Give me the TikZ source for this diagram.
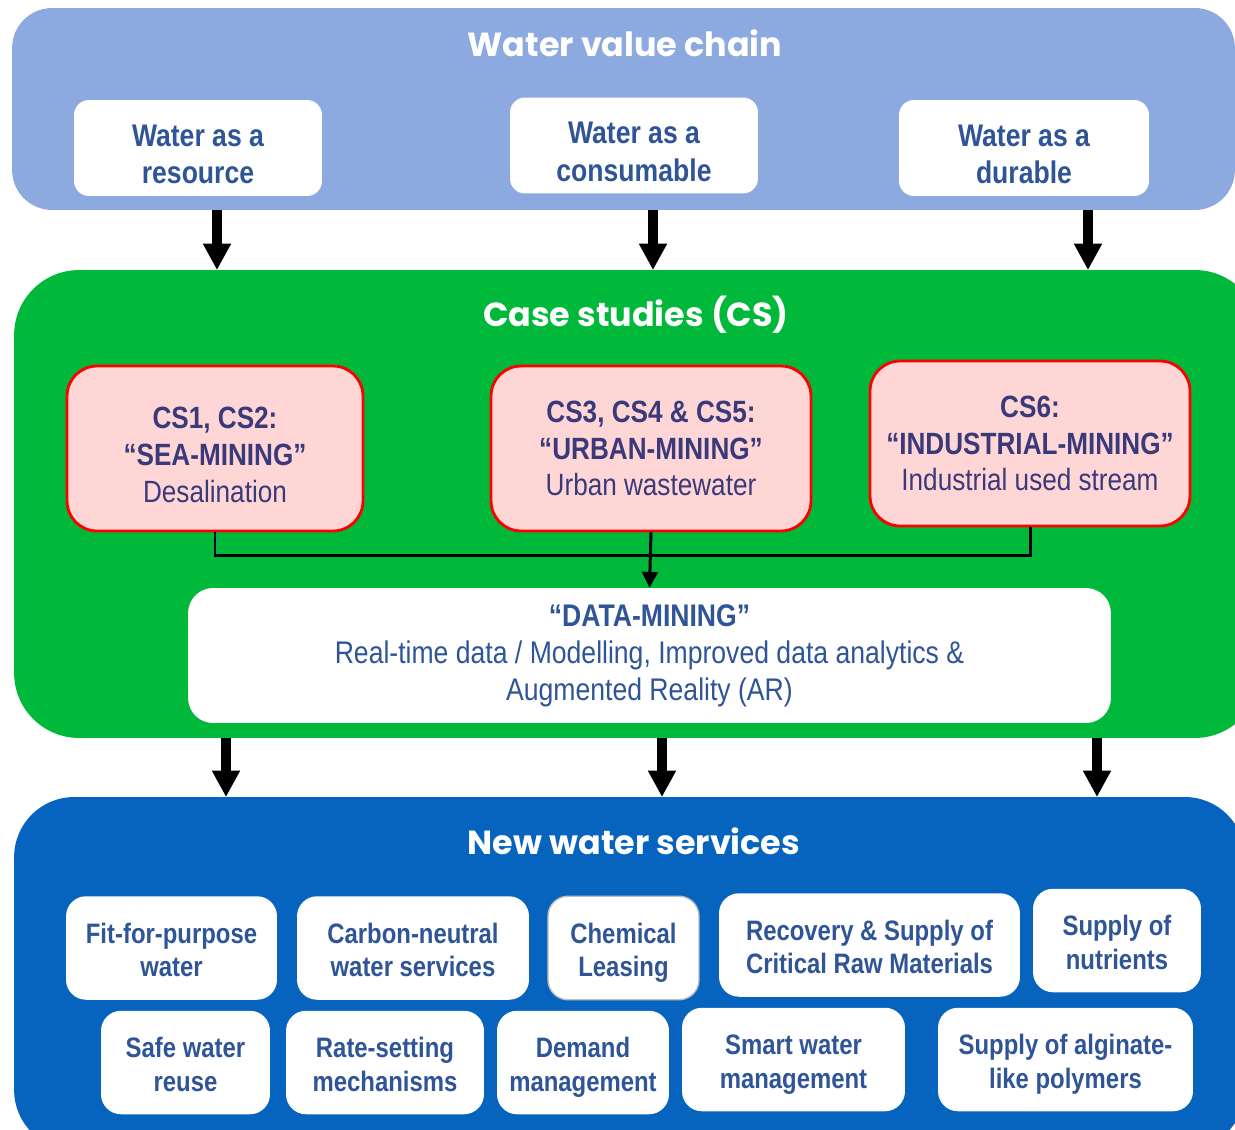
\documentclass[tikz,border=0pt]{standalone}
\usepackage{fontspec}
\setmainfont{Liberation Sans}[FakeStretch=0.85]
\newfontfamily\titlefont{Poppins}
\usetikzlibrary{arrows.meta}

\definecolor{chainblue}{RGB}{141,170,224}
\definecolor{casegreen}{RGB}{0,184,58}
\definecolor{serviceblue}{RGB}{6,100,190}
\definecolor{textblue}{RGB}{47,85,151}
\definecolor{csnavy}{RGB}{58,58,122}
\definecolor{cspink}{RGB}{255,214,214}

% strut for the first line of a box
\newcommand{\tall}{\rule{0pt}{1.1em}}

\tikzset{
  panel/.style={rectangle, inner sep=0pt, outer sep=0pt},
  paneltitle/.style={text=white, font=\titlefont\bfseries\fontsize{19}{22}\selectfont},
  chainbox/.style={rectangle, rounded corners=0.3cm, fill=white, text=textblue, align=center,
    font=\bfseries\fontsize{17.8}{21.5}\selectfont, minimum width=4.96cm, minimum height=1.92cm, inner sep=0pt},
  casebox/.style={rectangle, rounded corners=0.6cm, fill=cspink, draw=red, line width=1.6pt, text=csnavy,
    align=center, font=\fontsize{17.5}{21}\selectfont, minimum width=6.4cm, minimum height=3.3cm, inner sep=0pt},
  databox/.style={rectangle, rounded corners=0.5cm, fill=white, text=textblue, align=center,
    font=\fontsize{17.8}{21}\selectfont, minimum width=18.46cm, minimum height=2.7cm, inner sep=0pt},
  servicebox/.style={rectangle, rounded corners=0.4cm, fill=white, text=textblue, align=center,
    font=\bfseries\fontsize{16}{19.3}\selectfont, minimum height=2.07cm, inner sep=0pt,
    execute at end node={\rule[-4pt]{0pt}{0pt}}},
  link/.style={line width=1.7pt},
  bigarrow/.style={line width=5.5pt, -{Triangle[length=15pt,width=15pt]}},
}

\begin{document}
\begin{tikzpicture}[x=0.02cm, y=-0.02cm]
\useasboundingbox (0,0) rectangle (1235,1130);
\clip (0,0) rectangle (1235,1130);

% panels
\node[panel, fill=chainblue, rounded corners=0.8cm, minimum width=24.46cm, minimum height=4.04cm] (chain) at (623.5,109) {};
\node[panel, fill=casegreen, rounded corners=1.3cm, minimum width=24.92cm, minimum height=9.36cm] (cases) at (637,504) {};
\node[panel, fill=serviceblue, rounded corners=1.2cm, minimum width=24.62cm, minimum height=7.06cm] (services) at (629.5,973.5) {};

\node[paneltitle] (chaintitle) at (625,43) {Water value chain};
\node[paneltitle] (casetitle) at (636,315) {Case studies (CS)};
\node[paneltitle] (servicetitle) at (634,841) {New water services};

% water value chain
\node[chainbox] (resource) at (198,148) {\tall Water as a\\resource};
\node[chainbox] (consumable) at (634,145.5) {\tall Water as a\\consumable};
\node[chainbox, minimum width=5cm] (durable) at (1024,148) {\tall Water as a\\durable};

% case studies
\node[casebox, minimum width=5.92cm] (cs1) at (215,448.5) {\tall\textbf{CS1, CS2:}\\\textbf{“SEA-MINING”}\\Desalination};
\node[casebox] (cs3) at (651,448.5) {\textbf{CS3, CS4 \& CS5:}\\\textbf{“URBAN-MINING”}\\Urban wastewater};
\node[casebox] (cs6) at (1030,443.5) {\textbf{CS6:}\\\textbf{“INDUSTRIAL-MINING”}\\Industrial used stream};

\node[databox] (data) at (649.5,655.5) {\textbf{“DATA-MINING”}\\Real-time data / Modelling, Improved data analytics \&\\Augmented Reality (AR)};

\coordinate (bus) at (0,555);
\draw[link] (cs1.south) -- (cs1.south |- bus) -- (cs6.south |- bus) -- (cs6.south);
\draw[link, -{Triangle[length=9pt,width=9pt]}] (cs3.south) -- (data.north);

% new water services
\node[servicebox, minimum width=4.22cm] (fit) at (171.5,948) {\tall Fit-for-purpose\\water};
\node[servicebox, minimum width=4.64cm] (carbon) at (413,948) {\tall Carbon-neutral\\water services};
\node[servicebox, minimum width=3.02cm, draw=black!25, line width=0.8pt] (leasing) at (623.5,948) {\tall Chemical\\Leasing};
\node[servicebox, minimum width=6.02cm] (recovery) at (869.5,945) {\tall Recovery \& Supply of\\Critical Raw Materials};
\node[servicebox, minimum width=3.36cm] (nutrients) at (1117,940.5) {\tall Supply of\\nutrients};
\node[servicebox, minimum width=3.38cm] (reuse) at (185.5,1062.5) {\tall Safe water\\reuse};
\node[servicebox, minimum width=3.96cm] (rate) at (385,1062.5) {\tall Rate-setting\\mechanisms};
\node[servicebox, minimum width=3.44cm] (demand) at (583,1062.5) {\tall Demand\\management};
\node[servicebox, minimum width=4.46cm] (smart) at (793.5,1059.5) {\tall Smart water\\management};
\node[servicebox, minimum width=5.1cm] (alginate) at (1065.5,1059.5) {\tall Supply of alginate-\\like polymers};

% arrows between the panels
\foreach \x in {217,653,1088} {
  \coordinate (drop) at (\x,0);
  \draw[bigarrow] (chain.south -| drop) -- (cases.north -| drop);
}
\foreach \x in {226,662,1097} {
  \coordinate (drop) at (\x,0);
  \draw[bigarrow] (cases.south -| drop) -- (services.north -| drop);
}
\end{tikzpicture}
\end{document}
